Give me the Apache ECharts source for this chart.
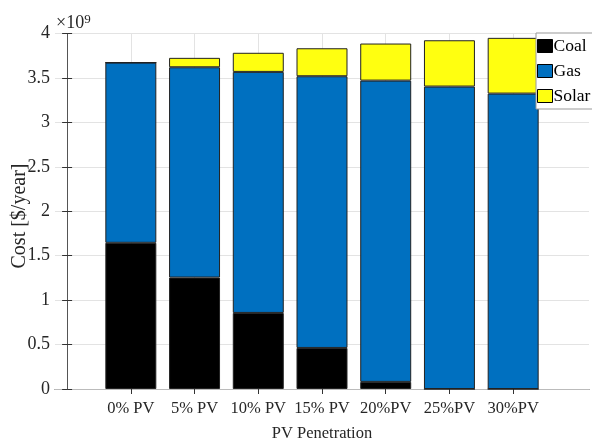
<!DOCTYPE html>
<html>
<head>
<meta charset="utf-8">
<script src="https://cdn.jsdelivr.net/npm/echarts@6/dist/echarts.min.js"></script>
<style>
html,body{margin:0;padding:0;background:#fff;}
#chart{width:592px;height:442px;}
</style>
</head>
<body>
<div id="chart"></div>
<script>
const categories = ['0% PV', '5% PV', '10% PV', '15% PV', '20%PV', '25%PV', '30%PV'];
const coal  = [1.645, 1.254, 0.856, 0.462, 0.080, 0, 0];
const gas   = [2.028, 2.366, 2.712, 3.057, 3.390, 3.403, 3.324];
const solar = [0, 0.106, 0.215, 0.315, 0.417, 0.521, 0.627];
const yTicks = [0, 0.5, 1, 1.5, 2, 2.5, 3, 3.5, 4];

const positions = categories.map((c, i) => i + 1);
const FONT = 'Liberation Serif';

// frame geometry
const plotLeft = 55, plotRight = 589, plotTop = 33.5, plotBottom = 389;
const xMin = -0.19, xMax = 8.19;
const unit = (plotRight - plotLeft) / (xMax - xMin);
const barGridLeft = plotLeft + (0.5 - xMin) * unit;
const barGridWidth = categories.length * unit;

const chart = echarts.init(document.getElementById('chart'), null, {renderer: 'canvas'});

chart.setOption({
  animation: false,
  backgroundColor: '#fff',
  textStyle: {fontFamily: FONT},
  grid: [
    {left: plotLeft, width: plotRight - plotLeft, top: plotTop, height: plotBottom - plotTop, outerBoundsMode: 'none', containLabel: false},
    {left: barGridLeft, width: barGridWidth, top: plotTop, height: plotBottom - plotTop, outerBoundsMode: 'none', containLabel: false}
  ],
  xAxis: [
    {
      type: 'value', min: xMin, max: xMax, gridIndex: 0, position: 'bottom',
      name: 'PV Penetration', nameLocation: 'middle', nameGap: 36,
      nameTextStyle: {fontFamily: FONT, fontSize: 16.5, color: '#262626'},
      axisLine: {show: true, lineStyle: {color: '#333', width: 1}},
      axisTick: {show: true, inside: true, length: 5, customValues: positions, lineStyle: {color: '#333'}},
      axisLabel: {show: true, customValues: positions, margin: 11, fontFamily: FONT, fontSize: 16.5, color: '#262626',
        formatter: v => categories[Math.round(v) - 1] || ''},
      splitLine: {show: true, lineStyle: {color: '#e3e3e3', width: 1}}
    },
    {
      type: 'value', min: xMin, max: xMax, gridIndex: 0, position: 'top',
      axisLine: {show: true, lineStyle: {color: '#bbb', width: 1}},
      axisTick: {show: true, inside: true, length: 5, customValues: positions, lineStyle: {color: '#333'}},
      axisLabel: {show: false},
      splitLine: {show: false}
    },
    {
      type: 'category', gridIndex: 1, data: categories, boundaryGap: true,
      axisLine: {show: false}, axisTick: {show: false}, axisLabel: {show: false}, splitLine: {show: false}
    }
  ],
  yAxis: [
    {
      type: 'value', min: 0, max: 4, interval: 0.5, position: 'left', gridIndex: 0,
      axisLine: {show: true, lineStyle: {color: '#999', width: 1}},
      axisTick: {show: true, inside: true, length: 5, lineStyle: {color: '#333'}},
      axisLabel: {show: true, margin: 5, fontFamily: FONT, fontSize: 18, color: '#262626',
        formatter: v => String(v)},
      splitLine: {show: true, lineStyle: {color: '#e3e3e3', width: 1}}
    },
    {
      type: 'value', min: 0, max: 4, interval: 0.5, position: 'right', gridIndex: 0,
      axisLine: {show: true, lineStyle: {color: '#555', width: 1}},
      axisTick: {show: true, inside: true, length: 5, lineStyle: {color: '#333'}},
      axisLabel: {show: false},
      splitLine: {show: false}
    },
    {
      type: 'value', min: 0, max: 4, interval: 0.5, gridIndex: 1,
      axisLine: {show: false}, axisTick: {show: false}, axisLabel: {show: false}, splitLine: {show: false}
    }
  ],
  legend: {
    orient: 'vertical', left: 536, top: 33,
    padding: [4, 12, 4, 1],
    itemWidth: 15, itemHeight: 13, itemGap: 7,
    backgroundColor: '#fff', borderColor: '#999', borderWidth: 1,
    icon: 'rect',
    itemStyle: {borderColor: '#000', borderWidth: 1},
    textStyle: {fontFamily: FONT, fontSize: 17.5, color: '#000', padding: [0, 0, 0, -4]},
    data: ['Coal', 'Gas', 'Solar']
  },
  graphic: [
    {
      type: 'text', left: 56, top: 13,
      style: {
        text: '×10{s|9}',
        font: '18px "Liberation Serif"', fill: '#262626',
        rich: {s: {fontSize: 13, fontFamily: FONT, fill: '#262626', verticalAlign: 'top', padding: [0, 0, 8, 0]}}
      }
    },
    {
      type: 'text', x: 20, y: 216, rotation: Math.PI / 2,
      style: {
        text: 'Cost [$/year]', font: '20px "Liberation Serif"', fill: '#262626',
        align: 'center', verticalAlign: 'middle'
      }
    }
  ],
  series: [
    {name: 'Coal', type: 'bar', stack: 'cost', xAxisIndex: 2, yAxisIndex: 2, barWidth: '80%', data: coal,
     itemStyle: {color: '#000000', borderColor: '#222', borderWidth: 1}},
    {name: 'Gas', type: 'bar', stack: 'cost', xAxisIndex: 2, yAxisIndex: 2, barWidth: '80%', data: gas,
     itemStyle: {color: '#0070C0', borderColor: '#222', borderWidth: 1}},
    {name: 'Solar', type: 'bar', stack: 'cost', xAxisIndex: 2, yAxisIndex: 2, barWidth: '80%', data: solar,
     itemStyle: {color: '#FFFF10', borderColor: '#222', borderWidth: 1}}
  ]
});
</script>
</body>
</html>
